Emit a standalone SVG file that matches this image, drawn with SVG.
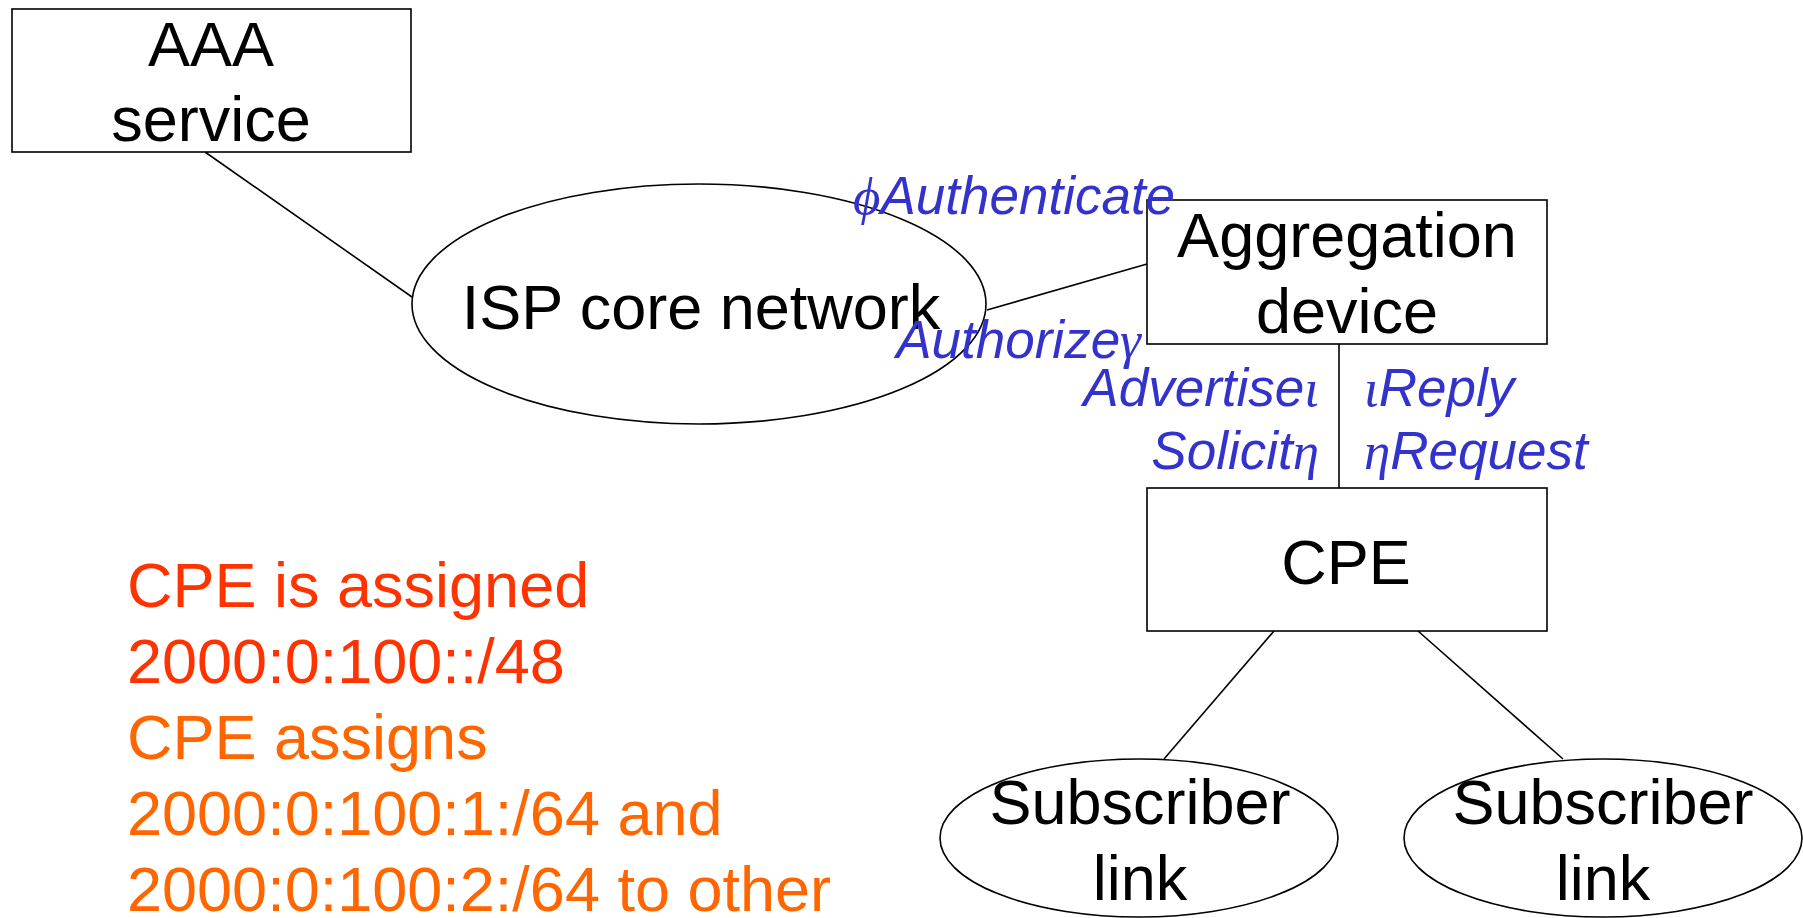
<svg xmlns="http://www.w3.org/2000/svg" width="1803" height="918" viewBox="0 0 1803 918">
<style>
.box{fill:#fff;stroke:#000;stroke-width:1.6}
.ell{fill:#fff;stroke:#000;stroke-width:1.6}
.lk{stroke:#000;stroke-width:1.6;fill:none}
.t{font-family:"Liberation Sans",Arial,sans-serif;font-size:63px;fill:#000;text-anchor:middle}
.lb{font-family:"Liberation Sans",Arial,sans-serif;font-size:53px;font-style:italic;fill:#3333CC}
.gr{font-family:"Liberation Serif","Times New Roman",serif;font-style:italic}
.note{font-family:"Liberation Sans",Arial,sans-serif;font-size:63px}
</style>
<rect width="1803" height="918" fill="#fff"/>
<g id="connectors">
<line class="lk" x1="205" y1="152" x2="412" y2="297"/>
<line class="lk" x1="987" y1="310" x2="1147" y2="264"/>
<line class="lk" x1="1339" y1="344" x2="1339" y2="488"/>
<line class="lk" x1="1274" y1="631" x2="1164" y2="759"/>
<line class="lk" x1="1418" y1="631" x2="1563" y2="759"/>
</g>
<g id="aaa">
<rect class="box" x="12" y="9" width="399" height="143"/>
<text class="t" x="211" y="66">AAA</text>
<text class="t" x="211" y="141">service</text>
</g>
<g id="isp">
<ellipse class="ell" cx="699" cy="304" rx="287" ry="120"/>
<text class="t" x="701" y="329">ISP core network</text>
</g>
<g id="aggregation">
<rect class="box" x="1147" y="200" width="400" height="144"/>
<text class="t" x="1347" y="257">Aggregation</text>
<text class="t" x="1347" y="333">device</text>
</g>
<g id="cpe">
<rect class="box" x="1147" y="488" width="400" height="143"/>
<text class="t" x="1346" y="584">CPE</text>
</g>
<g id="sub1">
<ellipse class="ell" cx="1139" cy="838" rx="199" ry="79"/>
<text class="t" x="1140" y="824">Subscriber</text>
<text class="t" x="1140" y="900">link</text>
</g>
<g id="sub2">
<ellipse class="ell" cx="1603" cy="838" rx="199" ry="79"/>
<text class="t" x="1603" y="824">Subscriber</text>
<text class="t" x="1603" y="900">link</text>
</g>
<g id="labels">
<text class="lb" x="853" y="214"><tspan class="gr">ϕ</tspan>Authenticate</text>
<text class="lb" x="1141" y="358" text-anchor="end">Authorize<tspan class="gr">γ</tspan></text>
<text class="lb" x="1319" y="406" text-anchor="end">Advertise<tspan class="gr">ι</tspan></text>
<text class="lb" x="1319" y="469" text-anchor="end">Solicit<tspan class="gr">η</tspan></text>
<text class="lb" x="1364" y="406"><tspan class="gr">ι</tspan>Reply</text>
<text class="lb" x="1364" y="469"><tspan class="gr">η</tspan>Request</text>
</g>
<g id="note">
<text class="note" x="127" y="607" fill="#FF3300">CPE is assigned</text>
<text class="note" x="127" y="683" fill="#FF3300">2000:0:100::/48</text>
<text class="note" x="127" y="759" fill="#FF6600">CPE assigns</text>
<text class="note" x="127" y="835" fill="#FF6600">2000:0:100:1:/64 and</text>
<text class="note" x="127" y="911" fill="#FF6600">2000:0:100:2:/64 to other</text>
</g>
</svg>
